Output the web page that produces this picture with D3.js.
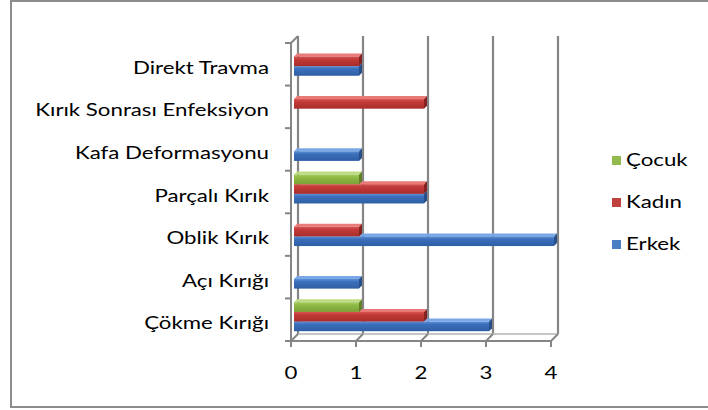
<!DOCTYPE html>
<html>
<head>
<meta charset="utf-8">
<script src="https://cdn.jsdelivr.net/npm/d3@7"></script>
<style>
  html, body { margin: 0; padding: 0; background: #fff; }
  svg { display: block; }
  text { font-family: Lato, "Open Sans", sans-serif; fill: #000; }
</style>
</head>
<body>
<svg id="chart" width="708" height="410"></svg>
<script>
// Fracture types, listed from the bottom of the axis to the top
const categories = ["Çökme Kırığı", "Açı Kırığı", "Oblik Kırık", "Parçalı Kırık",
                    "Kafa Deformasyonu", "Kırık Sonrası Enfeksiyon", "Direkt Travma"];
const seriesNames = ["Erkek", "Kadın", "Çocuk"];
const erkek = [3, 1, 4, 2, 1, 0, 1];
const kadin = [2, 0, 1, 2, 0, 2, 1];
const cocuk = [1, 0, 0, 1, 0, 0, 0];
const xTicks = [0, 1, 2, 3, 4];

const seriesValues = [erkek, kadin, cocuk];
const palette = {
  "Erkek": { front: ["#5b8fd6", "#3b6fbb", "#2e5ea4"], top: "#7aa8e6", end: "#284f8a", key: "#4a7ec4" },
  "Kadın": { front: ["#d65452", "#c23a38", "#a82d2b"], top: "#e87b78", end: "#86221f", key: "#c0403d" },
  "Çocuk": { front: ["#a6cd5e", "#8fba45", "#7aa136"], top: "#bedc86", end: "#607f27", key: "#92bb4d" }
};

// the chart's lettering is drawn wider than it is tall
const FONT_SIZE = 17;
const TEXT_STRETCH = 1.31;

const svg = d3.select("#chart");

// chart area frame (its right edge runs past the window)
svg.append("rect")
  .attr("x", 11).attr("y", 1).attr("width", 720).attr("height", 406)
  .attr("fill", "#fff").attr("stroke", "#8c8c8c").attr("stroke-width", 2);

// front-plane scales; the 3D depth shifts points right and up by equal amounts
const x = d3.scaleLinear().domain([0, 4]).range([291, 551]);
const y = d3.scaleBand().domain(categories).range([341, 43])
  .paddingInner(0.32).paddingOuter(0.16);
const ySeries = d3.scaleBand().domain(seriesNames).range([y.bandwidth(), 0]);
const DEPTH = 7;          // wall depth
const BAR_FRONT = 3;      // bar front-face depth
const BAR_BACK = 6;       // bar back-face depth
const yTop = 43, yBottom = 341;
const gridColor = "#858585";

const walls = svg.append("g");

// back wall gridlines
walls.selectAll("line.grid").data(xTicks).join("line")
  .attr("x1", d => x(d) + DEPTH).attr("x2", d => x(d) + DEPTH)
  .attr("y1", yTop - DEPTH).attr("y2", yBottom - DEPTH)
  .attr("stroke", gridColor).attr("stroke-width", 2.2);

// floor: back edge, front edge and depth lines
walls.append("line")
  .attr("x1", x(0) + DEPTH).attr("x2", x(4) + DEPTH)
  .attr("y1", yBottom - DEPTH).attr("y2", yBottom - DEPTH)
  .attr("stroke", "#b4b4b4").attr("stroke-width", 1.5);
walls.selectAll("line.floor").data(xTicks).join("line")
  .attr("x1", d => x(d)).attr("x2", d => x(d) + DEPTH)
  .attr("y1", yBottom).attr("y2", yBottom - DEPTH)
  .attr("stroke", gridColor).attr("stroke-width", 2);

// left wall: top depth edge
walls.append("line")
  .attr("x1", x(0)).attr("x2", x(0) + DEPTH)
  .attr("y1", yTop).attr("y2", yTop - DEPTH)
  .attr("stroke", gridColor).attr("stroke-width", 2);

// bars, drawn bottom series first so the upper bars cover the lower top faces
const defs = svg.append("defs");
const gradId = s => "grad-" + seriesNames.indexOf(s);
seriesNames.forEach(s => {
  const g = defs.append("linearGradient").attr("id", gradId(s))
    .attr("x1", 0).attr("x2", 0).attr("y1", 0).attr("y2", 1);
  g.append("stop").attr("offset", "0").attr("stop-color", palette[s].front[0]);
  g.append("stop").attr("offset", "0.3").attr("stop-color", palette[s].front[1]);
  g.append("stop").attr("offset", "1").attr("stop-color", palette[s].front[2]);
});

const barLayer = svg.append("g");
seriesNames.forEach((s, si) => {
  const data = categories.map((c, i) => ({ c, v: seriesValues[si][i] })).filter(d => d.v > 0);
  const grp = barLayer.append("g");
  data.forEach(d => {
    const xl = x(0), xr = x(d.v);
    const yt = y(d.c) + ySeries(s), yb = yt + ySeries.bandwidth();
    const a = BAR_FRONT, b = BAR_BACK;
    // top face
    grp.append("polygon")
      .attr("points", [[xl + a, yt - a], [xr + a, yt - a], [xr + b, yt - b], [xl + b, yt - b]].join(" "))
      .attr("fill", palette[s].top);
    // end face
    grp.append("polygon")
      .attr("points", [[xr + a, yt - a], [xr + b, yt - b], [xr + b, yb - b], [xr + a, yb - a]].join(" "))
      .attr("fill", palette[s].end);
    // front face
    grp.append("rect")
      .attr("x", xl + a).attr("y", yt - a)
      .attr("width", xr - xl).attr("height", yb - yt)
      .attr("fill", `url(#${gradId(s)})`);
  });
});

// front axis lines (drawn over the bar bases)
const axes = svg.append("g");
axes.append("line")
  .attr("x1", x(0)).attr("x2", x(0)).attr("y1", yTop).attr("y2", yBottom)
  .attr("stroke", gridColor).attr("stroke-width", 2);
axes.append("line")
  .attr("x1", x(0)).attr("x2", x(4)).attr("y1", yBottom).attr("y2", yBottom)
  .attr("stroke", gridColor).attr("stroke-width", 2);

// category ticks at the band boundaries
const catTicks = d3.range(categories.length + 1).map(i => yBottom - i * (yBottom - yTop) / categories.length);
axes.selectAll("line.ctick").data(catTicks).join("line")
  .attr("x1", x(0) - 6).attr("x2", x(0)).attr("y1", d => d).attr("y2", d => d)
  .attr("stroke", gridColor).attr("stroke-width", 2);
axes.selectAll("line.vtick").data(xTicks).join("line")
  .attr("x1", d => x(d)).attr("x2", d => x(d)).attr("y1", yBottom).attr("y2", yBottom + 6)
  .attr("stroke", gridColor).attr("stroke-width", 2);

// stretched text helper
function label(sel, px, py, anchor) {
  return sel.append("text")
    .attr("transform", `translate(${px},${py}) scale(${TEXT_STRETCH},1)`)
    .attr("text-anchor", anchor)
    .attr("font-size", FONT_SIZE);
}

// category labels
const catLayer = svg.append("g");
categories.forEach(c => {
  label(catLayer, 269, y(c) + y.bandwidth() / 2 + 9.5, "end").text(c);
});

// value labels
const valLayer = svg.append("g");
xTicks.forEach(v => {
  label(valLayer, x(v), 379, "middle").text(v);
});

// legend, top entry is the last series
const legendOrder = seriesNames.slice().reverse();
const legend = svg.append("g");
legendOrder.forEach((s, i) => {
  const top = 156 + i * 42;
  legend.append("rect").attr("x", 612).attr("y", top)
    .attr("width", 9).attr("height", 9).attr("fill", palette[s].key);
  label(legend, 626, top + 10, "start").text(s);
});
</script>
</body>
</html>
